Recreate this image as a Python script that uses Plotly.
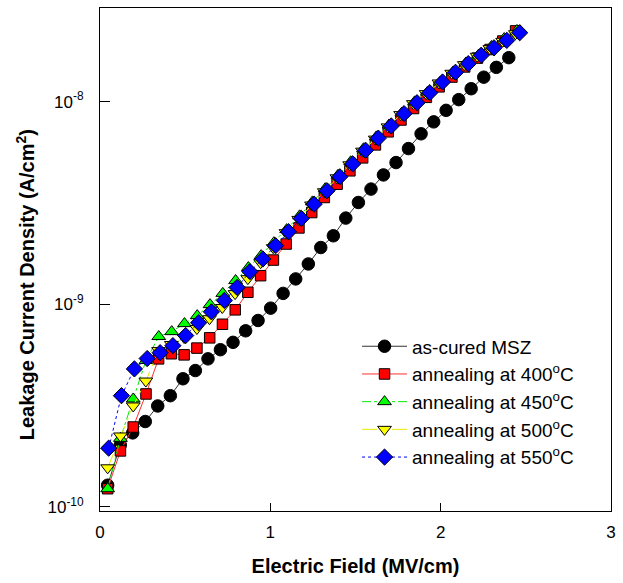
import plotly.graph_objects as go

# Electric field (MV/cm) for each sample
x_cured = [0.045, 0.119, 0.192, 0.266, 0.339, 0.413, 0.487, 0.560, 0.634, 0.707, 0.781,
           0.855, 0.928, 1.002, 1.075, 1.149, 1.223, 1.296, 1.370, 1.443, 1.517, 1.591,
           1.664, 1.738, 1.811, 1.885, 1.959, 2.032, 2.106, 2.179, 2.253, 2.327, 2.400]
x_400 = [0.045, 0.120, 0.195, 0.270, 0.344, 0.419, 0.494, 0.569, 0.644, 0.719, 0.794,
         0.868, 0.943, 1.018, 1.093, 1.168, 1.243, 1.317, 1.392, 1.467, 1.542, 1.617,
         1.692, 1.767, 1.841, 1.916, 1.991, 2.066, 2.141, 2.216, 2.290, 2.365, 2.440]
x_450 = [0.045, 0.120, 0.195, 0.270, 0.345, 0.421, 0.496, 0.571, 0.646, 0.721, 0.796,
         0.871, 0.946, 1.021, 1.096, 1.172, 1.247, 1.322, 1.397, 1.472, 1.547, 1.622,
         1.697, 1.772, 1.847, 1.923, 1.998, 2.073, 2.148, 2.223, 2.298, 2.373, 2.448]
x_500 = [0.045, 0.120, 0.195, 0.269, 0.344, 0.419, 0.494, 0.569, 0.643, 0.718, 0.793,
         0.868, 0.943, 1.017, 1.092, 1.167, 1.242, 1.317, 1.391, 1.466, 1.541, 1.616,
         1.691, 1.765, 1.840, 1.915, 1.990, 2.065, 2.139, 2.214, 2.289, 2.364, 2.439]
x_550 = [0.051, 0.126, 0.202, 0.277, 0.353, 0.428, 0.503, 0.579, 0.654, 0.730, 0.805,
         0.880, 0.956, 1.031, 1.107, 1.182, 1.257, 1.333, 1.408, 1.484, 1.559, 1.634,
         1.710, 1.785, 1.861, 1.936, 2.011, 2.087, 2.162, 2.238, 2.313, 2.388, 2.464]

# Leakage current density (A/cm^2)
j_cured = [1.28e-10, 2.02e-10, 2.32e-10, 2.64e-10, 3.15e-10, 3.54e-10, 4.29e-10, 4.71e-10,
           5.38e-10, 5.97e-10, 6.49e-10, 7.40e-10, 8.32e-10, 9.57e-10, 1.132e-9, 1.334e-9,
           1.581e-9, 1.906e-9, 2.178e-9, 2.663e-9, 3.179e-9, 3.702e-9, 4.348e-9, 5.003e-9,
           5.866e-9, 6.938e-9, 7.946e-9, 9.057e-9, 1.023e-8, 1.158e-8, 1.320e-8, 1.476e-8, 1.648e-8]
j_400 = [1.23e-10, 1.89e-10, 2.48e-10, 3.61e-10, 5.38e-10, 5.70e-10, 5.63e-10, 6.08e-10,
         6.83e-10, 7.97e-10, 9.39e-10, 1.146e-9, 1.384e-9, 1.653e-9, 1.983e-9, 2.381e-9,
         2.836e-9, 3.365e-9, 3.913e-9, 4.557e-9, 5.280e-9, 6.117e-9, 7.096e-9, 8.117e-9,
         9.249e-9, 1.050e-8, 1.183e-8, 1.322e-8, 1.483e-8, 1.640e-8, 1.808e-8, 1.991e-8, 2.234e-8]
j_450 = [1.23e-10, 2.18e-10, 3.41e-10, 5.28e-10, 6.93e-10, 7.33e-10, 8.03e-10, 8.79e-10,
         9.96e-10, 1.132e-9, 1.309e-9, 1.517e-9, 1.738e-9, 2.014e-9, 2.336e-9, 2.732e-9,
         3.201e-9, 3.719e-9, 4.329e-9, 5.050e-9, 5.853e-9, 6.699e-9, 7.674e-9, 8.790e-9,
         9.970e-9, 1.114e-8, 1.250e-8, 1.400e-8, 1.551e-8, 1.698e-8, 1.870e-8, 2.048e-8, 2.244e-8]
j_500 = [1.56e-10, 2.24e-10, 3.15e-10, 4.18e-10, 5.91e-10, 6.33e-10, 6.85e-10, 7.59e-10,
         8.49e-10, 9.64e-10, 1.129e-9, 1.338e-9, 1.604e-9, 1.902e-9, 2.256e-9, 2.623e-9,
         3.090e-9, 3.592e-9, 4.207e-9, 4.878e-9, 5.696e-9, 6.531e-9, 7.502e-9, 8.630e-9,
         9.772e-9, 1.095e-8, 1.236e-8, 1.380e-8, 1.522e-8, 1.674e-8, 1.825e-8, 1.984e-8, 2.163e-8]
j_550 = [1.95e-10, 3.54e-10, 4.80e-10, 5.40e-10, 5.77e-10, 6.25e-10, 7.01e-10, 8.11e-10,
         9.18e-10, 1.045e-9, 1.211e-9, 1.450e-9, 1.673e-9, 1.946e-9, 2.282e-9, 2.651e-9,
         3.120e-9, 3.633e-9, 4.258e-9, 4.933e-9, 5.754e-9, 6.607e-9, 7.586e-9, 8.724e-9,
         9.876e-9, 1.107e-8, 1.250e-8, 1.396e-8, 1.540e-8, 1.694e-8, 1.844e-8, 2.005e-8, 2.188e-8]

names = ["as-cured MSZ", "annealing at 400<sup>o</sup>C", "annealing at 450<sup>o</sup>C",
         "annealing at 500<sup>o</sup>C", "annealing at 550<sup>o</sup>C"]
y_tickvals = [1e-10, 1e-9, 1e-8]
y_ticktext = ["10<sup>-10</sup>", "10<sup>-9</sup>", "10<sup>-8</sup>"]
x_tickvals = [0, 1, 2, 3]

FONT = "Liberation Sans, Arial, Helvetica, sans-serif"

series = [
    (x_cured, j_cured, names[0], "#000000", "#333333", "solid", "circle", 12.5),
    (x_400, j_400, names[1], "#ff0000", "#ff3030", "solid", "square", 10.5),
    (x_450, j_450, names[2], "#00ff00", "#00ee00", "dashdot", "triangle-up", 12),
    (x_500, j_500, names[3], "#ffff00", "#e8e800", "longdashdot", "triangle-down", 12),
    (x_550, j_550, names[4], "#0000ff", "#0000ff", "dot", "diamond", 12.5),
]

fig = go.Figure()
for xs, ys, nm, fill, lcol, dash, sym, sz in series:
    fig.add_trace(go.Scatter(
        x=xs, y=ys, name=nm, mode="lines+markers",
        line=dict(color=lcol, width=1, dash=dash),
        marker=dict(symbol=sym, size=sz, color=fill, line=dict(color="#000000", width=1)),
    ))

fig.update_layout(
    width=623, height=583,
    margin=dict(l=100, r=8, t=7, b=72),
    paper_bgcolor="white", plot_bgcolor="white",
    font=dict(family=FONT, color="#000000", size=17),
    showlegend=True,
    legend=dict(
        x=0.503, y=0.365, xanchor="left", yanchor="top",
        bgcolor="rgba(0,0,0,0)", borderwidth=0,
        font=dict(family=FONT, size=19, color="#000000"),
        itemwidth=45, tracegroupgap=0,
    ),
    xaxis=dict(
        range=[0, 3], tickvals=x_tickvals, ticks="inside", ticklen=8, tickwidth=1,
        tickcolor="#000000", showline=True, linecolor="#000000", linewidth=1, mirror=True,
        showgrid=False, zeroline=False, tickfont=dict(size=17, family=FONT),
        ticklabelstandoff=6,
        title=dict(text="<b>Electric Field (MV/cm)</b>", font=dict(size=20, family=FONT), standoff=17),
    ),
    yaxis=dict(
        type="log", range=[-10.02, -7.538], tickvals=y_tickvals, ticktext=y_ticktext,
        ticks="inside", ticklen=10, tickwidth=1, tickcolor="#000000",
        showline=True, linecolor="#000000", linewidth=1, mirror=True,
        showgrid=False, zeroline=False, tickfont=dict(size=17, family=FONT),
        ticklabelstandoff=12,
    ),
    annotations=[dict(
        text="<b>Leakage Current Density (A/cm<sup>2</sup>)</b>",
        xref="paper", yref="paper", x=-0.1456, y=0.45,
        xanchor="center", yanchor="middle", textangle=-90, showarrow=False,
        font=dict(size=20, family=FONT, color="#000000"),
    )],
)

fig.write_html("out.html")
